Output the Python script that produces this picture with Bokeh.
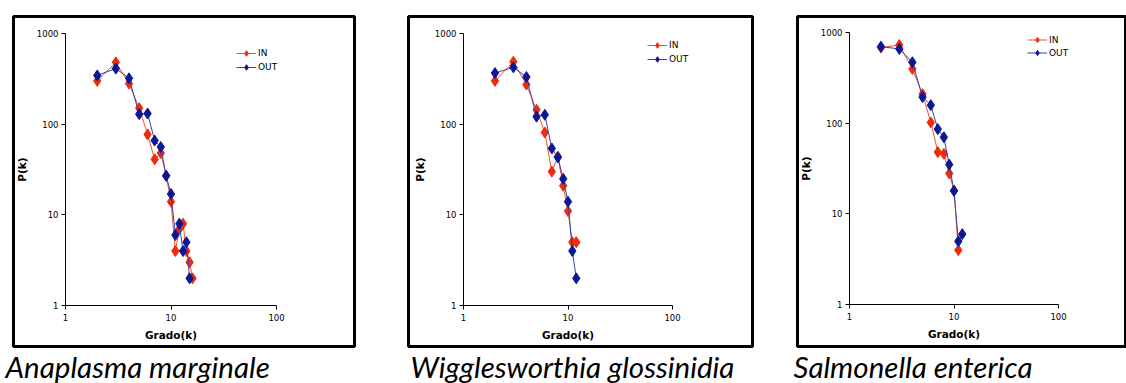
import math
from bokeh.plotting import figure
from bokeh.layouts import row
from bokeh.models import FixedTicker, PrintfTickFormatter, Title, Legend
from bokeh.embed import file_html
from bokeh.resources import INLINE

# ---------------- data ----------------
names = ["Anaplasma marginale", "Wigglesworthia glossinidia", "Salmonella enterica"]

anaplasma_k_in = [2, 3, 4, 5, 6, 7, 8, 9, 10, 11, 12, 13, 14, 15, 16]
anaplasma_in = [300, 480, 280, 150, 77, 41, 48, 27, 14, 4, 7, 8, 4, 3, 2]
anaplasma_k_out = [2, 3, 4, 5, 6, 7, 8, 9, 10, 11, 12, 13, 14, 15]
anaplasma_out = [345, 410, 320, 129, 131, 66, 56, 27, 17, 6, 8, 4, 5, 2]

wiggles_k_in = [2, 3, 4, 5, 6, 7, 8, 9, 10, 11, 12]
wiggles_in = [300, 488, 273, 144, 81, 30, 44, 21, 11, 5, 5]
wiggles_k_out = [2, 3, 4, 5, 6, 7, 8, 9, 10, 11, 12]
wiggles_out = [366, 423, 331, 121, 127, 54, 43, 25, 14, 4, 2]

salmonella_k_in = [2, 3, 4, 5, 6, 7, 8, 9, 10, 11]
salmonella_in = [680, 727, 396, 209, 102, 48, 46, 28, 18, 4]
salmonella_k_out = [2, 3, 4, 5, 6, 7, 8, 9, 10, 11, 12]
salmonella_out = [697, 657, 469, 194, 158, 86, 70, 35, 18, 5, 6]

x_ticks = [1, 10, 100]
y_ticks = [1, 10, 100, 1000]
series_labels = ["IN", "OUT"]

RED = "#F02A0C"
RED_LINE = "#F5502E"
BLUE = "#0B1896"
BLUE_LINE = "#3444A8"

H = 383

# layout per panel (page pixels)
panels = [
    dict(off=0, w=385, fl=13, fr=354, ft=16, fb=347, x1=65, x100=276, y1000=33, y1=306,
         leg_x=236, leg_y_bottom=75, row_h=14, title_x=5,
         data=(anaplasma_k_in, anaplasma_in, anaplasma_k_out, anaplasma_out)),
    dict(off=385, w=390, fl=408, fr=752, ft=16, fb=347, x1=463, x100=672, y1000=33, y1=306,
         leg_x=647, leg_y_bottom=67, row_h=14, title_x=410,
         data=(wiggles_k_in, wiggles_in, wiggles_k_out, wiggles_out)),
    dict(off=775, w=351, fl=797, fr=1126, ft=16, fb=348, x1=849, x100=1058, y1000=32, y1=306,
         leg_x=1027, leg_y_bottom=61, row_h=13, title_x=793,
         data=(salmonella_k_in, salmonella_in, salmonella_k_out, salmonella_out)),
]

figs = []
for name, pc in zip(names, panels):
    kx = (pc["x100"] - pc["x1"]) / 2.0
    ky = (pc["y1"] - pc["y1000"]) / 3.0
    x_start = 10 ** ((pc["fl"] - pc["x1"]) / kx)
    x_end = 10 ** ((pc["fr"] - pc["x1"]) / kx)
    y_start = 10 ** (-(pc["fb"] - pc["y1"]) / ky)
    y_end = 10 ** (3 + (pc["y1000"] - pc["ft"]) / ky)

    p = figure(width=pc["w"], height=H, x_axis_type="log", y_axis_type="log",
               x_range=(x_start, x_end), y_range=(y_start, y_end),
               output_backend="svg", toolbar_location=None,
               min_border_left=pc["fl"] - pc["off"],
               min_border_right=pc["off"] + pc["w"] - pc["fr"],
               min_border_top=pc["ft"], min_border_bottom=H - pc["fb"])
    p.grid.visible = False
    p.outline_line_color = "black"
    p.outline_line_width = 3
    p.background_fill_color = "white"
    p.border_fill_color = "white"

    for ax, ticks, bnd, loc in ((p.xaxis, x_ticks, (1, 100), 1), (p.yaxis, y_ticks, (1, 1000), 1)):
        ax.fixed_location = loc
        ax.bounds = bnd
        ax.ticker = FixedTicker(ticks=ticks, minor_ticks=[])
        ax.formatter = PrintfTickFormatter(format="%d")
        ax.axis_line_color = "black"
        ax.axis_line_width = 1
        ax.major_tick_line_color = "black"
        ax.major_tick_out = 4
        ax.major_tick_in = 0
        ax.minor_tick_line_color = None
        ax.major_label_text_font = "DejaVu Sans"
        ax.major_label_text_font_size = "8.5px"
        ax.major_label_text_color = "black"
        ax.axis_label_text_font = "DejaVu Sans"
        ax.axis_label_text_font_size = "10.5px"
        ax.axis_label_text_font_style = "bold"
        ax.axis_label_text_color = "black"
    p.xaxis.axis_label = "Grado(k)"
    p.yaxis.axis_label = "P(k)"
    p.xaxis.major_label_standoff = 4
    p.xaxis.axis_label_standoff = 5
    p.yaxis.major_label_standoff = 3
    p.yaxis.axis_label_standoff = 6

    k_in, v_in, k_out, v_out = pc["data"]
    l1 = p.line(k_in, v_in, line_color=RED_LINE, line_width=1)
    s1 = p.scatter(k_in, v_in, marker="diamond", size=11,
                   fill_color=RED, line_color=RED)
    l2 = p.line(k_out, v_out, line_color=BLUE_LINE, line_width=1)
    s2 = p.scatter(k_out, v_out, marker="diamond", size=11,
                   fill_color=BLUE, line_color=BLUE)

    legend = Legend(items=[(series_labels[0], [l1, s1]), (series_labels[1], [l2, s2])],
                    location=(pc["leg_x"] - pc["fl"], pc["fb"] - pc["leg_y_bottom"]))
    legend.padding = 0
    legend.margin = 0
    legend.spacing = 0
    legend.border_line_alpha = 0
    legend.background_fill_alpha = 0
    legend.glyph_width = 20
    legend.glyph_height = pc["row_h"]
    legend.label_height = pc["row_h"]
    legend.label_standoff = 2
    legend.label_text_font = "DejaVu Sans"
    legend.label_text_font_size = "9px"
    legend.label_text_color = "black"
    p.add_layout(legend, "center")

    t = Title(text=name, align="left", offset=pc["title_x"] - pc["fl"],
              text_font="Lato", text_font_style="italic", text_font_size="29.5px",
              text_color="black", standoff=0)
    p.add_layout(t, "below")
    figs.append(p)

layout = row(*figs, spacing=0)
open("out.html", "w").write(file_html(layout, INLINE))
